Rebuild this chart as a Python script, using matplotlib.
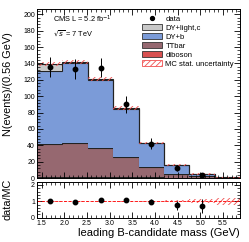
import matplotlib
matplotlib.use('Agg')
import matplotlib.pyplot as plt
from matplotlib.patches import Patch
from matplotlib.lines import Line2D
from matplotlib.ticker import MultipleLocator
import numpy as np

plt.rcParams['font.family'] = ['Liberation Sans', 'DejaVu Sans']
plt.rcParams['hatch.linewidth'] = 0.6

# bin edges of the leading B-candidate mass (GeV), 0.56 GeV wide
edges = np.array([1.40, 1.96, 2.52, 3.08, 3.64, 4.20, 4.76, 5.32, 5.88])

# stacked MC components (bottom to top)
diboson = np.array([1.5, 1.5, 1.5, 1.0, 0.8, 0.5, 0.3, 0.1])
ttbar = np.array([40.0, 41.5, 35.0, 25.0, 12.8, 4.5, 2.2, 0.2])
dy_b = np.array([89.5, 97.0, 83.5, 58.5, 29.0, 11.0, 2.0, 0.3])
dy_light = np.array([8.0, 2.0, 1.5, 1.0, 0.5, 0.5, 0.5, 0.2])
mc_unc = np.array([2.5, 2.5, 2.5, 2.0, 1.5, 1.2, 0.8, 0.4])

# data points
data_x = np.array([1.68, 2.24, 2.80, 3.36, 3.92, 4.48, 5.04])
data_y = np.array([136, 133, 135, 90, 42, 12.5, 3.7])
data_err = np.array([12, 12, 12, 10, 7, 4, 2.2])

# ratio panel
ratio_y = np.array([1.0, 0.93, 1.1, 1.06, 0.98, 0.76, 0.7])
ratio_err = np.array([0.08, 0.08, 0.09, 0.09, 0.16, 0.27, 0.41])
ratio_unc = np.array([0.02, 0.02, 0.025, 0.03, 0.04, 0.07, 0.12, 0.22])

c_light = '#c8c8c8'
c_dyb = '#7b9bd8'
c_tt = '#966870'
c_dib = '#d85050'
c_hatch = '#f05050'

fig = plt.figure(figsize=(2.49, 2.42), dpi=100)
ax = fig.add_axes([0.149, 0.264, 0.815, 0.697])
rax = fig.add_axes([0.149, 0.101, 0.815, 0.148])

# stack
bottom = np.zeros(len(edges) - 1)
for vals, col in [(diboson, c_dib), (ttbar, c_tt), (dy_b, c_dyb), (dy_light, c_light)]:
    top = bottom + vals
    ax.stairs(top, edges, baseline=bottom, fill=True, color=col, linewidth=0)
    ax.stairs(top, edges, baseline=None, color='#222222', linewidth=0.8)
    bottom = top
total = bottom

# MC stat uncertainty band
lo = total - mc_unc
hi = total + mc_unc
ax.fill_between(edges, np.append(lo, lo[-1]), np.append(hi, hi[-1]), step='post',
                facecolor='none', edgecolor=c_hatch, hatch='//////', linewidth=0)

ax.errorbar(data_x, data_y, yerr=data_err, fmt='o', color='black', ms=3.2,
            elinewidth=0.7, capsize=0)

ax.set_xlim(edges[0], edges[-1])
ax.set_ylim(0, 206)
ax.set_ylabel('N(events)/(0.56 GeV)', fontsize=7.8)
ax.yaxis.set_label_coords(-0.12, 0.56)
ax.xaxis.set_major_locator(MultipleLocator(0.5))
ax.xaxis.set_minor_locator(MultipleLocator(0.1))
ax.yaxis.set_major_locator(MultipleLocator(20))
ax.yaxis.set_minor_locator(MultipleLocator(4))
ax.tick_params(axis='x', labelbottom=False)

ax.text(0.08, 0.92, 'CMS L = 5.2 fb$^{-1}$', transform=ax.transAxes, fontsize=5.3)
ax.text(0.08, 0.845, r'$\sqrt{s}$ = 7 TeV', transform=ax.transAxes, fontsize=5.3)

handles = [
    Line2D([], [], marker='o', color='black', ms=2.8, linestyle='none'),
    Patch(facecolor=c_light, edgecolor='#333333', linewidth=0.6),
    Patch(facecolor=c_dyb, edgecolor='#333333', linewidth=0.6),
    Patch(facecolor=c_tt, edgecolor='#333333', linewidth=0.6),
    Patch(facecolor=c_dib, edgecolor='#333333', linewidth=0.6),
    Patch(facecolor='white', edgecolor=c_hatch, hatch='//////', linewidth=0.6),
]
labels = ['data', 'DY+light,c', 'DY+b', 'TTbar', 'diboson', 'MC stat. uncertainty']
ax.legend(handles, labels, loc='upper left', bbox_to_anchor=(0.5, 0.99), frameon=False,
          fontsize=5.5, borderpad=0, labelspacing=0.2, handlelength=2.6, handleheight=0.8,
          handletextpad=0.4)

# ratio
rlo = 1 - ratio_unc
rhi = 1 + ratio_unc
rax.fill_between(edges, np.append(rlo, rlo[-1]), np.append(rhi, rhi[-1]), step='post',
                 facecolor='none', edgecolor=c_hatch, hatch='//////', linewidth=0)
rax.axhline(1, color='red', linestyle='--', linewidth=0.6)
rax.errorbar(data_x, ratio_y, yerr=ratio_err, fmt='o', color='black', ms=3.2,
             elinewidth=0.7, capsize=0)
rax.set_xlim(edges[0], edges[-1])
rax.set_ylim(0, 2.2)
rax.set_ylabel('data/MC', fontsize=7.8)
rax.yaxis.set_label_coords(-0.12, 0.5)
rax.set_xlabel('leading B-candidate mass (GeV)', fontsize=8, loc='right', labelpad=1)
rax.xaxis.set_major_locator(MultipleLocator(0.5))
rax.xaxis.set_minor_locator(MultipleLocator(0.1))
rax.yaxis.set_major_locator(MultipleLocator(1))
rax.yaxis.set_minor_locator(MultipleLocator(0.2))

for a in (ax, rax):
    a.tick_params(which='both', direction='in', top=True, right=True, labelsize=5, pad=1.5)
    a.tick_params(which='major', length=4, width=0.6)
    a.tick_params(which='minor', length=2, width=0.5)
    for s in a.spines.values():
        s.set_linewidth(0.7)

fig.savefig('out.png', dpi=100)
